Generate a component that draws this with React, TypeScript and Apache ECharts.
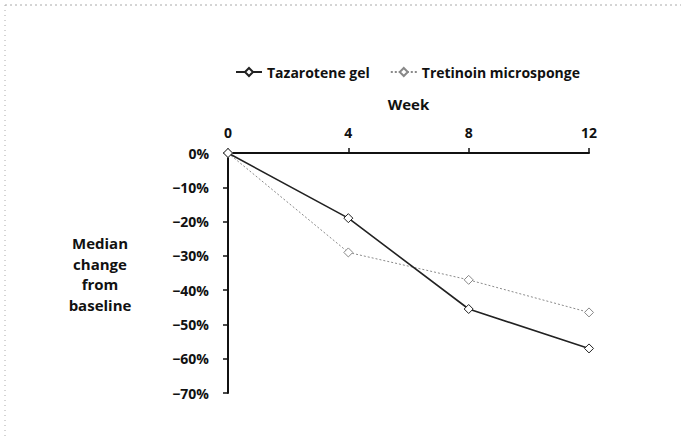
import React, { useEffect, useRef } from "react";
import * as echarts from "echarts";

const weeks = [0, 4, 8, 12];
const tazarotene = [0, -19, -45.5, -57];
const tretinoin = [0, -29, -37, -46.5];
const seriesNames = ["Tazarotene gel", "Tretinoin microsponge"];
const yLabelText = "Median\nchange\nfrom\nbaseline";

export default function App() {
  const ref = useRef<HTMLDivElement>(null);
  useEffect(() => {
    if (!ref.current) return;
    const chart = echarts.init(ref.current, null, { renderer: "svg" });
    const font = "'Open Sans', Lato, 'DejaVu Sans', sans-serif";
    chart.setOption({
      animation: false,
      backgroundColor: "#ffffff",
      textStyle: { fontFamily: font },
      legend: {
        top: 60,
        left: 230,
        itemGap: 20,
        itemWidth: 26,
        itemHeight: 10,
        textStyle: { fontFamily: font, fontWeight: "bold", fontSize: 14, color: "#111" },
        data: seriesNames,
      },
      grid: { left: 228, top: 153, width: 361, height: 240 },
      xAxis: {
        type: "value",
        position: "top",
        min: 0,
        max: 12,
        interval: 4,
        name: "Week",
        nameLocation: "middle",
        nameGap: 42,
        nameTextStyle: { fontFamily: font, fontWeight: "bold", fontSize: 15, color: "#111" },
        axisLine: { show: true, lineStyle: { color: "#111", width: 2 } },
        axisTick: { show: true, length: 5, lineStyle: { color: "#111", width: 1.5 } },
        axisLabel: { fontFamily: font, fontWeight: "bold", fontSize: 14, color: "#111", margin: 14 },
        splitLine: { show: false },
      },
      yAxis: {
        type: "value",
        min: -70,
        max: 0,
        interval: 10,
        axisLine: { show: true, onZero: false, lineStyle: { color: "#111", width: 2 } },
        axisTick: { show: true, length: 5, lineStyle: { color: "#111", width: 1.5 } },
        axisLabel: {
          fontFamily: font,
          fontWeight: "bold",
          fontSize: 14,
          color: "#111",
          margin: 19,
          formatter: (v: number) => (v === 0 ? "0%" : "\u2212" + Math.abs(v) + "%"),
        },
        splitLine: { show: false },
      },
      series: [
        {
          name: seriesNames[0],
          type: "line",
          data: weeks.map((w, i) => [w, tazarotene[i]]),
          symbol: "diamond",
          symbolSize: 9,
          showSymbol: true,
          itemStyle: { color: "#fff", borderColor: "#222", borderWidth: 1 },
          lineStyle: { color: "#222", width: 1.6 },
          z: 3,
        },
        {
          name: seriesNames[1],
          type: "line",
          data: weeks.map((w, i) => [w, tretinoin[i]]),
          symbol: "diamond",
          symbolSize: 9,
          showSymbol: true,
          itemStyle: { color: "#fff", borderColor: "#888", borderWidth: 1 },
          lineStyle: { color: "#8a8a8a", width: 1, type: [2, 2] },
          z: 2,
        },
      ],
      graphic: [
        {
          type: "text",
          x: 100,
          y: 233,
          style: {
            text: yLabelText,
            fontFamily: font,
            fontWeight: "bold",
            fontSize: 15,
            lineHeight: 20.5,
            fill: "#111",
            align: "center",
            verticalAlign: "top",
          },
        },
        {
          type: "line",
          shape: { x1: 5, y1: 5, x2: 681, y2: 5 },
          style: { stroke: "#aaa", lineWidth: 1, lineDash: [2, 3] },
        },
        {
          type: "line",
          shape: { x1: 5, y1: 5, x2: 5, y2: 437 },
          style: { stroke: "#aaa", lineWidth: 1, lineDash: [1, 4] },
        },
      ],
    });
    return () => chart.dispose();
  }, []);
  return (
    <div
      ref={ref}
      style={{ position: "fixed", left: 0, top: 0, width: 686, height: 442 }}
    />
  );
}
